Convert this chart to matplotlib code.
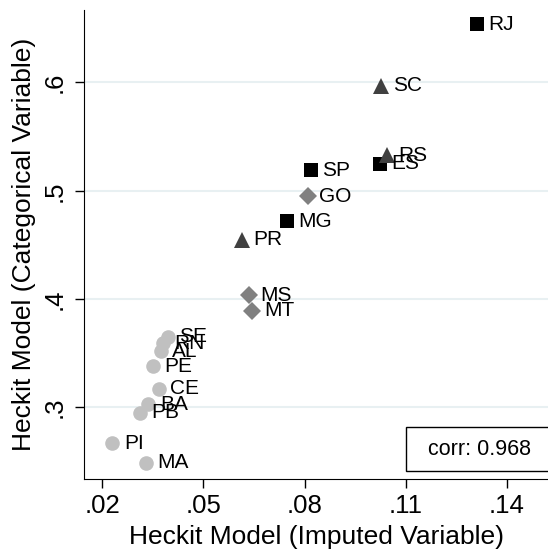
import matplotlib.pyplot as plt
from matplotlib.patches import Rectangle

plt.rcParams['font.family'] = ['Liberation Sans', 'DejaVu Sans']

# Estados e valores
states = ['RJ', 'SC', 'RS', 'ES', 'SP', 'GO', 'MG', 'PR', 'MS', 'MT',
          'SE', 'RN', 'AL', 'PE', 'CE', 'BA', 'PB', 'PI', 'MA']
imputed = [0.1312, 0.1027, 0.1045, 0.1023, 0.0819, 0.0810, 0.0747, 0.0615, 0.0635, 0.0645,
           0.0394, 0.0380, 0.0373, 0.0350, 0.0368, 0.0337, 0.0311, 0.0230, 0.0330]
categorical = [0.654, 0.597, 0.533, 0.525, 0.519, 0.495, 0.472, 0.455, 0.4036, 0.389,
               0.365, 0.359, 0.352, 0.338, 0.317, 0.303, 0.295, 0.267, 0.2487]
groups = ['sq', 'tri', 'tri', 'sq', 'sq', 'dia', 'sq', 'tri', 'dia', 'dia',
          'circ', 'circ', 'circ', 'circ', 'circ', 'circ', 'circ', 'circ', 'circ']
corr_text = 'corr: 0.968'

xticks = [0.02, 0.05, 0.08, 0.11, 0.14]
yticks = [0.3, 0.4, 0.5, 0.6]

styles = {
    'sq': dict(marker='s', color='black', markersize=10),
    'tri': dict(marker='^', color='#404040', markersize=11),
    'dia': dict(marker='D', color='#808080', markersize=9.5),
    'circ': dict(marker='o', color='#c0c0c0', markersize=10.5),
}

fig = plt.figure(figsize=(5.48, 5.52), dpi=100)
ax = fig.add_axes([0.154, 0.132, 0.846, 0.85])

# Linhas de grade horizontais
for yt in yticks:
    ax.axhline(yt, color='#e8f0f2', linewidth=1.5, zorder=0)

for g, st in styles.items():
    xs = [x for x, gg in zip(imputed, groups) if gg == g]
    ys = [y for y, gg in zip(categorical, groups) if gg == g]
    ax.plot(xs, ys, linestyle='none', markeredgewidth=0, zorder=3, **st)

# Rótulos dos estados
for i in range(len(states)):
    ax.annotate(states[i], (imputed[i], categorical[i]), textcoords='offset points',
                xytext=(8.3, 0), ha='left', va='center', fontsize=15, zorder=4)

ax.set_xlim(0.0147, 0.1522)
ax.set_ylim(0.2337, 0.667)

ax.set_xticks(xticks)
ax.set_xticklabels(['.02', '.05', '.08', '.11', '.14'])
ax.set_yticks(yticks)
ax.set_yticklabels(['.3', '.4', '.5', '.6'], rotation=90, va='center')
ax.tick_params(axis='both', direction='out', length=6.5, width=1, labelsize=18.5, pad=4)
ax.tick_params(axis='y', pad=6)

ax.spines['top'].set_visible(False)
ax.spines['right'].set_visible(False)

ax.set_xlabel('Heckit Model (Imputed Variable)', fontsize=19, labelpad=5)
ax.set_ylabel('Heckit Model (Categorical Variable)', fontsize=19, labelpad=5)

# Caixa da correlação
ax.add_patch(Rectangle((0.11, 0.2416), 0.06, 0.0404, facecolor='white',
                       edgecolor='black', linewidth=1, zorder=5))
ax.text(0.1319, 0.2614, corr_text, ha='center', va='center', fontsize=15.5, zorder=6)

plt.savefig('out.png', dpi=100)
